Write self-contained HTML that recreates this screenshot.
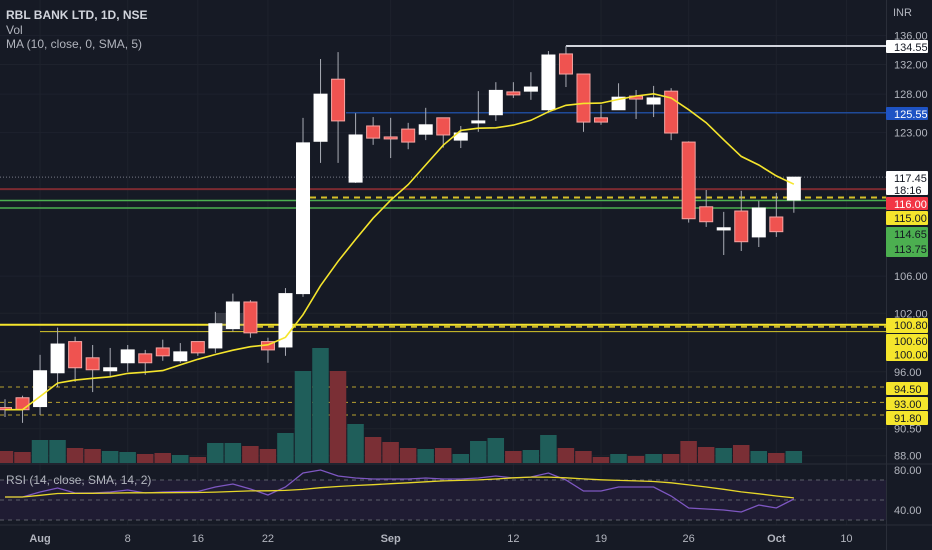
<!DOCTYPE html>
<html><head><meta charset="utf-8"><style>
html,body{margin:0;padding:0;background:#161a25;}
svg{display:block;font-family:"Liberation Sans",sans-serif;}
</style></head><body>
<svg id="chart" width="932" height="550" viewBox="0 0 932 550" xmlns="http://www.w3.org/2000/svg">
<rect x="0" y="0" width="932" height="550" fill="#161a25"/>
<g id="grid"></g>
<g id="levels"></g>
<g id="vol"></g>
<rect x="215" y="313" width="28" height="17" fill="rgba(120,123,134,0.3)"/>
<g id="candles"></g>
<g id="ma"></g>
<g id="rsi"></g>
<line x1="0" y1="464" x2="932" y2="464" stroke="#2a2e39" stroke-width="1"/>
<line x1="0" y1="525" x2="932" y2="525" stroke="#2a2e39" stroke-width="1"/>
<line x1="886.5" y1="0" x2="886.5" y2="550" stroke="#2a2e39" stroke-width="1"/>
<g id="axis"></g>
<g id="taxis"></g>
<text x="6" y="19" fill="#d1d4dc" font-size="12" font-weight="bold">RBL BANK LTD, 1D, NSE</text>
<text x="6" y="34" fill="#b2b5be" font-size="12">Vol</text>
<text x="6" y="48" fill="#b2b5be" font-size="12">MA (10, close, 0, SMA, 5)</text>
<text x="6" y="484" fill="#b2b5be" font-size="12">RSI (14, close, SMA, 14, 2)</text>
<text x="893" y="16" fill="#b2b5be" font-size="11">INR</text>
</svg>
<script>
const opens  = [92.5,93.45,92.6,95.9,99.05,97.4,96.1,96.9,97.8,98.4,97.1,99.05,98.4,100.4,103.2,99.05,98.5,104.1,121.9,130.0,116.85,123.85,122.45,123.45,122.8,124.9,122.05,124.25,125.3,128.3,128.4,125.95,133.45,130.7,124.9,125.95,127.75,126.7,128.4,121.8,113.9,111.2,113.4,110.4,112.7,114.7];
const highs  = [93.3,93.65,97.7,100.5,99.55,98.7,98.4,98.7,98.2,99.25,98.9,99.05,102.15,104.1,103.4,99.45,104.7,124.9,132.75,133.7,125.5,125.0,124.9,124.25,126.2,124.9,123.85,128.4,129.6,129.6,130.95,133.85,134.55,130.7,126.6,129.45,128.55,129.1,128.8,121.9,115.9,113.3,115.8,114.6,115.55,117.45];
const lows   = [91.6,91.05,91.8,94.5,95.0,94.0,95.5,96.0,95.7,97.1,96.9,97.6,97.9,100.1,99.45,96.9,97.6,103.75,119.2,119.2,116.75,121.45,119.8,120.9,122.05,121.1,121.05,123.1,124.5,127.5,127.25,125.55,128.95,123.1,124.0,125.95,124.75,125.0,122.05,112.05,111.55,108.35,108.8,109.25,110.4,113.2];
const closes = [92.3,92.3,96.1,98.8,96.4,96.2,96.4,98.2,96.9,97.6,98.0,97.9,100.9,103.2,99.95,98.2,104.1,121.7,128.0,124.5,122.7,122.3,122.2,121.8,124.0,122.7,122.95,124.5,128.5,127.9,128.95,133.3,130.7,124.35,124.35,127.6,127.35,127.5,122.95,112.5,112.15,111.45,109.85,113.75,111.0,117.45];
const volumes = [1.2,1.1,2.3,2.3,1.5,1.4,1.2,1.1,0.9,1.0,0.8,0.6,2.0,2.0,1.7,1.4,3.0,9.2,11.5,9.2,3.9,2.6,2.1,1.5,1.4,1.5,0.9,2.2,2.5,1.2,1.3,2.8,1.5,1.2,0.6,0.9,0.7,0.9,0.9,2.2,1.6,1.5,1.8,1.2,1.0,1.2];
const rsiValues = [53,53,58,62,57,57,58,60,57,58,58.5,58.5,63,66,61,55,63,77,80,74,72,71,71,71,72,71,71,72,74,72,73,77,70,59,59,63,63,63,54,42,41,40,38,45,42,51];
const priceTicks = [136,132,128,123,106,102,96,90.5,88];
const priceTickLabels = ["136.00","132.00","128.00","123.00","106.00","102.00","96.00","90.50","88.00"];
const timeTickIdx = [2,7,11,15,22,29,34,39,44,48];
const timeTickLabels = ["Aug","8","16","22","Sep","12","19","26","Oct","10"];
const levelValues = [134.55,125.55,117.45,116,115,114.65,113.75,100.8,100.6,94.5,93,91.8];

const NS="http://www.w3.org/2000/svg";
function el(parent,tag,attrs){const e=document.createElementNS(NS,tag);for(const k in attrs)e.setAttribute(k,attrs[k]);parent.appendChild(e);return e;}
function xOf(i){return 5+i*17.53;}
function yP(p){return 46+965*Math.log(134.55/p);}
function yV(v){return 463-v*10;}
function yR(r){return 550-r;}
const boldTicks={Aug:1,Sep:1,Oct:1};

const grid=document.getElementById('grid');
priceTicks.forEach((p,i)=>{const l=el(grid,'line',{x1:0,x2:886,y1:yP(p),y2:yP(p),stroke:'#1e222d','stroke-width':1});

});
timeTickIdx.forEach((ix,i)=>{const l=el(grid,'line',{x1:xOf(ix),x2:xOf(ix),y1:0,y2:525,stroke:'#1e222d','stroke-width':1});

});

const lv=document.getElementById('levels');
function hl(name,y,x1,color,w,dash){const l=el(lv,'line',{x1:x1,x2:886,y1:y,y2:y,stroke:color,'stroke-width':w});if(dash)l.setAttribute('stroke-dasharray',dash);

return l;}
hl('level-134-55',yP(levelValues[0]),xOf(32),'#d1d4dc',2);
const tk=el(lv,'line',{x1:xOf(32),x2:xOf(32),y1:yP(levelValues[0]),y2:yP(levelValues[0])+8,stroke:'#d1d4dc','stroke-width':1});


hl('level-125-55',yP(levelValues[1]),346,'#1f4a99',1.5);
hl('last-price-line',yP(levelValues[2]),0,'#787b86',1,'1 2');
hl('level-116',yP(levelValues[3]),0,'#7b2a31',2);
hl('level-115',yP(levelValues[4]),310,'#d4c029',2,'6 5');
hl('level-114-65',yP(levelValues[5]),0,'#4caf50',1.5);
hl('level-113-75',yP(levelValues[6]),0,'#4caf50',1.5);
hl('level-100-80',yP(levelValues[7]),0,'#f5e52c',2);
hl('level-100-80-dash',yP(levelValues[7])+2,257,'#c9b52a',2,'6 5');
hl('level-100-60',yP(levelValues[8])+5,40,'#d8c92a',1);
hl('level-94-50',yP(levelValues[9]),0,'#b8a130',1,'4 4');
hl('level-93',yP(levelValues[10]),0,'#b8a130',1,'4 4');
hl('level-91-80',yP(levelValues[11]),0,'#b8a130',1,'4 4');

const vg=document.getElementById('vol');
volumes.forEach((v,i)=>{const up=closes[i]>=opens[i];
const r=el(vg,'rect',{x:xOf(i)-8.3,y:yV(v),width:16.5,height:463-yV(v),fill:up?'#1f5e5a':'#7a2f35'});

});

const cg=document.getElementById('candles');
opens.forEach((o,i)=>{const c=closes[i],up=c>=o,x=xOf(i);
const w=el(cg,'line',{x1:x,x2:x,y1:yP(highs[i]),y2:yP(lows[i]),stroke:'#a9acb5','stroke-width':1});


const top=yP(Math.max(o,c)),bot=yP(Math.min(o,c));
const b=el(cg,'rect',{x:x-6.5,y:top,width:13,height:Math.max(2,bot-top),fill:up?'#ffffff':'#ef5350',stroke:up?'#ffffff':'#f6a5a3','stroke-width':1});

});

const mg=document.getElementById('ma');let pts=[];
closes.forEach((c,i)=>{const s=Math.max(0,i-9);let sum=0;for(let k=s;k<=i;k++)sum+=closes[k];pts.push(xOf(i)+','+yP(sum/(i-s+1)).toFixed(1));});
const ml=el(mg,'polyline',{points:pts.join(' '),fill:'none',stroke:'#f5e52c','stroke-width':1.6});



const rg=document.getElementById('rsi');
const band=el(rg,'rect',{x:0,y:yR(70),width:886,height:yR(30)-yR(70),fill:'#1f1c33'});


[70,50,30].forEach(v=>{const l=el(rg,'line',{x1:0,x2:886,y1:yR(v),y2:yR(v),stroke:'#5d606b','stroke-width':1,'stroke-dasharray':'4 4'});

});
let rp=[],mp=[];
rsiValues.forEach((r,i)=>{rp.push(xOf(i)+','+yR(r));const s=Math.max(0,i-13);let sum=0;for(let k=s;k<=i;k++)sum+=rsiValues[k];mp.push(xOf(i)+','+yR(sum/(i-s+1)).toFixed(1));});
const rl=el(rg,'polyline',{points:rp.join(' '),fill:'none',stroke:'#7e57c2','stroke-width':1.3});


const rm=el(rg,'polyline',{points:mp.join(' '),fill:'none',stroke:'#e6d629','stroke-width':1.3});



const ax=document.getElementById('axis');
priceTicks.forEach((p,i)=>{const t=el(ax,'text',{x:894,y:yP(p)+4,fill:'#b2b5be','font-size':11});t.textContent=priceTickLabels[i];

});
[[80,'80.00'],[40,'40.00']].forEach(a=>{const t=el(ax,'text',{x:894,y:yR(a[0])+4,fill:'#b2b5be','font-size':11});t.textContent=a[1];

});
function badge(name,y,h,bg,fg,lines){const r=el(ax,'rect',{x:886,y:y,width:42,height:h,fill:bg,rx:1});


lines.forEach((s,k)=>{const t=el(ax,'text',{x:894,y:y+11+k*(h/lines.length),fill:fg,'font-size':11});t.textContent=s;

});}
badge('label-134-55',40,13,'#ffffff','#131722',['134.55']);
badge('label-125-55',107,13,'#1e53c4','#ffffff',['125.55']);
badge('label-last-price',171,24,'#ffffff','#131722',['117.45','18:16']);
badge('label-116',197,13,'#f23645','#ffffff',['116.00']);
badge('label-115',211,14,'#f5e52c','#131722',['115.00']);
badge('label-green-levels',227,30,'#4caf50','#131722',['114.65','113.75']);
badge('label-100-80',318,15,'#f5e52c','#131722',['100.80']);
badge('label-100-60',334,27,'#f5e52c','#131722',['100.60','100.00']);
badge('label-94-50',382,13,'#f5e52c','#131722',['94.50']);
badge('label-93',397,13,'#f5e52c','#131722',['93.00']);
badge('label-91-80',411,14,'#f5e52c','#131722',['91.80']);

const ta=document.getElementById('taxis');
timeTickIdx.forEach((ix,i)=>{const s=timeTickLabels[i];const t=el(ta,'text',{x:xOf(ix),y:542,fill:'#b2b5be','font-size':11,'text-anchor':'middle','font-weight':boldTicks[s]?'bold':'normal'});t.textContent=s;

});
</script>
</body></html>
